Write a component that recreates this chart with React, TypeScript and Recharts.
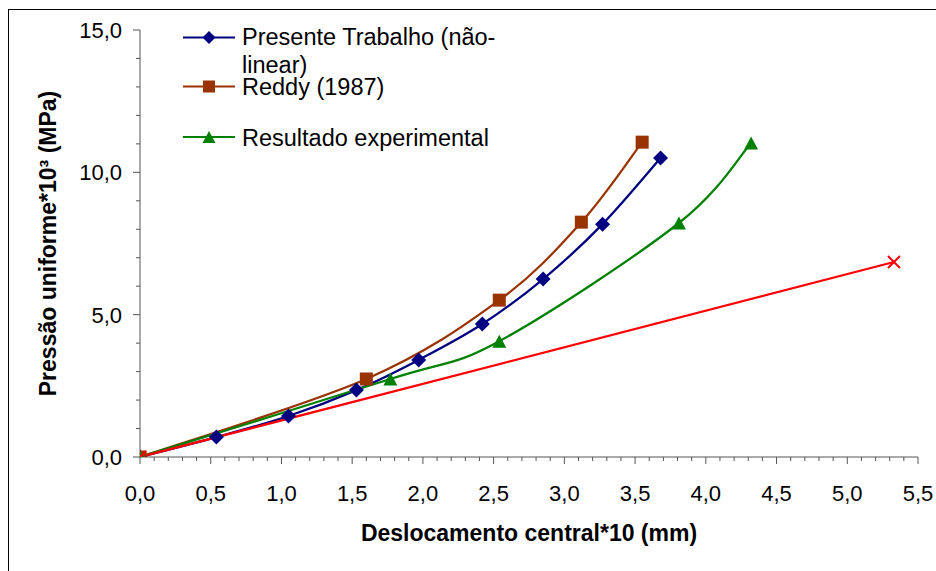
import { LineChart, Line, XAxis, YAxis, Legend } from "recharts";

// Deslocamento central*10 (mm) x Pressão uniforme*10³ (MPa)
const presenteX = [0, 0.54, 1.05, 1.53, 1.97, 2.42, 2.85, 3.27, 3.68];
const presenteY = [0, 0.7, 1.44, 2.35, 3.41, 4.67, 6.25, 8.18, 10.5];

const reddyX = [0, 1.6, 2.54, 3.12, 3.55];
const reddyY = [0, 2.74, 5.51, 8.25, 11.06];

const experimentalX = [0, 1.77, 2.54, 3.81, 4.32];
const experimentalY = [0, 2.74, 4.07, 8.22, 11.03];

const linearX = [0, 5.33];
const linearY = [0, 6.85];

const xMajorTicks = [0, 0.5, 1, 1.5, 2, 2.5, 3, 3.5, 4, 4.5, 5, 5.5];
const yMajorTicks = [0, 5, 10, 15];
const xTicks = Array.from({ length: 56 }, (_, i) => i / 10);
const yTicks = Array.from({ length: 16 }, (_, i) => i);

const NAVY = "#000080";
const BROWN = "#993300";
const GREEN = "#008000";
const RED = "#ff0000";
const AXIS = "#555555";
const FONT = "'Liberation Sans', Arial, sans-serif";

function toPoints(xs: number[], ys: number[]) {
  return xs.map((x, i) => ({ x, y: ys[i] }));
}

function fmt(v: number) {
  return v.toFixed(1).replace(".", ",");
}

function isMajor(v: number, majors: number[]) {
  return majors.some((m) => Math.abs(m - v) < 1e-6);
}

// Excel-like smoothed line (Catmull-Rom through every point)
// eslint-disable-next-line @typescript-eslint/no-explicit-any
function smoothCurve(context: any) {
  let pts: [number, number][] = [];
  return {
    areaStart() {},
    areaEnd() {},
    lineStart() {
      pts = [];
    },
    point(x: number, y: number) {
      pts.push([x, y]);
    },
    lineEnd() {
      if (!pts.length) return;
      context.moveTo(pts[0][0], pts[0][1]);
      for (let i = 0; i < pts.length - 1; i++) {
        const p0 = pts[i - 1] || pts[i];
        const p1 = pts[i];
        const p2 = pts[i + 1];
        const p3 = pts[i + 2] || p2;
        context.bezierCurveTo(
          p1[0] + (p2[0] - p0[0]) / 6,
          p1[1] + (p2[1] - p0[1]) / 6,
          p2[0] - (p3[0] - p1[0]) / 6,
          p2[1] - (p3[1] - p1[1]) / 6,
          p2[0],
          p2[1]
        );
      }
    },
  };
}

function Diamond({ cx, cy, r = 7.5 }: { cx: number; cy: number; r?: number }) {
  return (
    <polygon
      points={`${cx},${cy - r} ${cx + r},${cy} ${cx},${cy + r} ${cx - r},${cy}`}
      fill={NAVY}
    />
  );
}

function Square({ cx, cy, s = 13 }: { cx: number; cy: number; s?: number }) {
  return <rect x={cx - s / 2} y={cy - s / 2} width={s} height={s} fill={BROWN} />;
}

function Triangle({ cx, cy, w = 14, h = 13 }: { cx: number; cy: number; w?: number; h?: number }) {
  return (
    <polygon
      points={`${cx},${cy - h / 2} ${cx + w / 2},${cy + h / 2} ${cx - w / 2},${cy + h / 2}`}
      fill={GREEN}
    />
  );
}

function Cross({ cx, cy, r = 6 }: { cx: number; cy: number; r?: number }) {
  return (
    <g stroke={RED} strokeWidth={2}>
      <line x1={cx - r} y1={cy - r} x2={cx + r} y2={cy + r} />
      <line x1={cx - r} y1={cy + r} x2={cx + r} y2={cy - r} />
    </g>
  );
}

// eslint-disable-next-line @typescript-eslint/no-explicit-any
function XTick({ x, y, payload }: any) {
  const v = Number(payload.value);
  const major = isMajor(v, xMajorTicks);
  return (
    <g>
      <line x1={x} x2={x} y1={y} y2={y + (major ? 7 : 4)} stroke={AXIS} />
      {major && (
        <text x={x} y={y + 44} textAnchor="middle" fontSize={22} fontFamily={FONT} fill="#000">
          {fmt(v)}
        </text>
      )}
    </g>
  );
}

// eslint-disable-next-line @typescript-eslint/no-explicit-any
function YTick({ x, y, payload }: any) {
  const v = Number(payload.value);
  const major = isMajor(v, yMajorTicks);
  return (
    <g>
      <line x1={x - (major ? 7 : 4)} x2={x} y1={y} y2={y} stroke={AXIS} />
      {major && (
        <text x={x - 18} y={y + 8} textAnchor="end" fontSize={22} fontFamily={FONT} fill="#000">
          {fmt(v)}
        </text>
      )}
    </g>
  );
}

function LegendBox() {
  const textStyle = { fontSize: 23.5, fontFamily: FONT, fill: "#000" };
  return (
    <svg width={340} height={140}>
      <line x1={3} x2={55} y1={17.5} y2={17.5} stroke={NAVY} strokeWidth={2} />
      <Diamond cx={29} cy={17.5} r={6.5} />
      <text x={62} y={25} {...textStyle}>Presente Trabalho (não-</text>
      <text x={62} y={53} {...textStyle}>linear)</text>

      <line x1={3} x2={55} y1={66.5} y2={66.5} stroke={BROWN} strokeWidth={2} />
      <Square cx={29} cy={66.5} s={12} />
      <text x={62} y={75} {...textStyle}>Reddy (1987)</text>

      <line x1={3} x2={55} y1={117} y2={117} stroke={GREEN} strokeWidth={2} />
      <Triangle cx={29} cy={117} w={13} h={12} />
      <text x={62} y={126} {...textStyle}>Resultado experimental</text>
    </svg>
  );
}

export default function App() {
  return (
    <div
      style={{
        position: "relative",
        width: 936,
        height: 571,
        overflow: "hidden",
        background: "#fff",
        fontFamily: FONT,
      }}
    >
      <style>{"body{margin:0}"}</style>
      <div
        style={{
          position: "absolute",
          left: 8,
          top: 9,
          width: 1200,
          height: 1200,
          border: "1px solid #000",
        }}
      />
      <LineChart width={936} height={571} margin={{ top: 30, right: 18, bottom: 0, left: 0 }}>
        <XAxis
          type="number"
          dataKey="x"
          domain={[0, 5.5]}
          ticks={xTicks}
          interval={0}
          tickSize={0}
          tickMargin={0}
          tickLine={false}
          tick={<XTick />}
          height={114}
          axisLine={{ stroke: AXIS }}
          allowDataOverflow
          label={{
            value: "Deslocamento central*10 (mm)",
            position: "insideBottom",
            offset: 30,
            style: { fontSize: 23, fontWeight: "bold", fontFamily: FONT, fill: "#000" },
          }}
        />
        <YAxis
          type="number"
          dataKey="y"
          domain={[0, 15]}
          ticks={yTicks}
          interval={0}
          tickSize={0}
          tickMargin={0}
          tickLine={false}
          tick={<YTick />}
          width={140}
          axisLine={{ stroke: AXIS }}
          allowDataOverflow
          label={{
            value: "Pressão uniforme*10³ (MPa)",
            angle: -90,
            position: "insideLeft",
            offset: 48,
            style: {
              fontSize: 23,
              fontWeight: "bold",
              fontFamily: FONT,
              fill: "#000",
              textAnchor: "middle",
            },
          }}
        />
        <Legend
          layout="vertical"
          align="center"
          verticalAlign="middle"
          wrapperStyle={{ left: 180, top: 20, width: 340, height: 140 }}
          content={() => <LegendBox />}
        />
        <Line
          data={toPoints(presenteX, presenteY)}
          dataKey="y"
          type={smoothCurve}
          stroke={NAVY}
          strokeWidth={2.25}
          isAnimationActive={false}
          activeDot={false}
          dot={(p: any) => <Diamond key={`d${p.index}`} cx={p.cx} cy={p.cy} />}
        />
        <Line
          data={toPoints(reddyX, reddyY)}
          dataKey="y"
          type={smoothCurve}
          stroke={BROWN}
          strokeWidth={2.25}
          isAnimationActive={false}
          activeDot={false}
          dot={(p: any) => <Square key={`s${p.index}`} cx={p.cx} cy={p.cy} />}
        />
        <Line
          data={toPoints(experimentalX, experimentalY)}
          dataKey="y"
          type={smoothCurve}
          stroke={GREEN}
          strokeWidth={2.25}
          isAnimationActive={false}
          activeDot={false}
          dot={(p: any) => <Triangle key={`t${p.index}`} cx={p.cx} cy={p.cy} />}
        />
        <Line
          data={toPoints(linearX, linearY)}
          dataKey="y"
          type="linear"
          stroke={RED}
          strokeWidth={2.25}
          isAnimationActive={false}
          activeDot={false}
          dot={(p: any) => <Cross key={`c${p.index}`} cx={p.cx} cy={p.cy} />}
        />
      </LineChart>
    </div>
  );
}
